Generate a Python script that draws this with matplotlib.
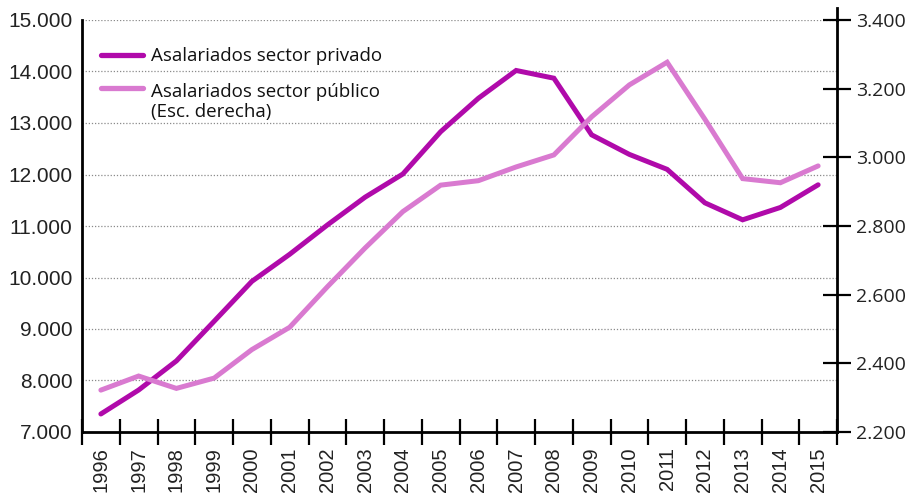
import matplotlib
matplotlib.use("Agg")
import matplotlib.pyplot as plt
from matplotlib.ticker import FuncFormatter, FixedLocator
from matplotlib.lines import Line2D

years = ["1996", "1997", "1998", "1999", "2000", "2001", "2002", "2003", "2004", "2005",
         "2006", "2007", "2008", "2009", "2010", "2011", "2012", "2013", "2014", "2015"]
privado = [7350, 7815, 8380, 9150, 9925, 10450, 11020, 11560, 12010, 12830,
           13480, 14020, 13870, 12770, 12390, 12100, 11450, 11120, 11360, 11800]
publico = [2322, 2363, 2327, 2357, 2440, 2505, 2623, 2736, 2842, 2919,
           2932, 2972, 3007, 3118, 3211, 3277, 3111, 2938, 2926, 2975]
label_priv = ["Asalariados sector privado"]
label_pub = ["Asalariados sector público", "(Esc. derecha)"]
left_ticks = [7000, 8000, 9000, 10000, 11000, 12000, 13000, 14000, 15000]
right_ticks = [2200, 2400, 2600, 2800, 3000, 3200, 3400]

c_dark = "#B00AAA"
c_light = "#D97AD0"

W, H = 907, 495
fig = plt.figure(figsize=(W / 100, H / 100), dpi=100)
ax = fig.add_axes([82/W, 63/H, 755/W, 412/H])
ax2 = ax.twinx()

x = list(range(len(years)))
ax.plot(x, privado, color=c_dark, lw=3.6, solid_capstyle="round", solid_joinstyle="miter", zorder=5)
ax2.plot(x, publico, color=c_light, lw=3.6, solid_capstyle="round", solid_joinstyle="miter", zorder=4)

ax.set_xlim(-0.5, len(years) - 0.5)
ax.set_ylim(7000, 15000)
ax2.set_ylim(2200, 3400)

fmt = FuncFormatter(lambda v, p: f"{int(v):,}".replace(",", "."))
ax.yaxis.set_major_locator(FixedLocator(left_ticks))
ax.yaxis.set_major_formatter(fmt)
ax2.yaxis.set_major_locator(FixedLocator(right_ticks))
ax2.yaxis.set_major_formatter(fmt)

for t in left_ticks[1:]:
    ax.axhline(t, color="#8a8a8a", lw=0.9, ls=(0, (1, 1.5)), zorder=1)

ax.set_xticks([i - 0.5 for i in range(len(years) + 1)], minor=False)
ax.set_xticklabels([])
ax.set_xticks(x, minor=True)
ax.set_xticklabels(years, minor=True, rotation=90, fontsize=14.5, family="Liberation Sans", color="#222222")
ax.tick_params(axis="x", which="major", direction="inout", length=19, width=1.6, color="black")
ax.tick_params(axis="x", which="minor", length=0, pad=11)

ax.tick_params(axis="y", length=0, pad=7, labelsize=15, labelcolor="#222222")
for lab in ax.get_yticklabels():
    lab.set_family("Liberation Sans")
ax2.tick_params(axis="y", direction="inout", length=20, width=1.6, pad=4, labelsize=14, labelcolor="#222222")
for lab in ax2.get_yticklabels():
    lab.set_family("Open Sans")

for a in (ax, ax2):
    a.spines["top"].set_visible(False)
    for s in ("left", "right", "bottom"):
        a.spines[s].set_linewidth(2)
ax2.spines["left"].set_visible(False)
ax2.spines["bottom"].set_visible(False)
ax.spines["right"].set_visible(False)
ax2.patch.set_visible(False)

# right spine extends slightly above the plot area
fig.add_artist(Line2D([837/W, 837/W], [1 - 20/H, 1 - 8/H], transform=fig.transFigure,
                      color="black", lw=2))

# legend drawn manually
def px(xp, yp):
    return xp / W, 1 - yp / H

for (yy, baselines, col, lines) in [(55, [61], c_dark, label_priv),
                                    (88, [97, 116.5], c_light, label_pub)]:
    x0, y0 = px(101, yy)
    x1, _ = px(143, yy)
    fig.add_artist(Line2D([x0, x1], [y0, y0], transform=fig.transFigure, color=col,
                          lw=3.8, solid_capstyle="round"))
    for bl, txt in zip(baselines, lines):
        tx, ty = px(151, bl)
        fig.text(tx, ty, txt, ha="left", va="baseline", family="Open Sans", fontsize=13.5,
                 color="#111111")

fig.savefig("out.png", dpi=100, facecolor="white")
